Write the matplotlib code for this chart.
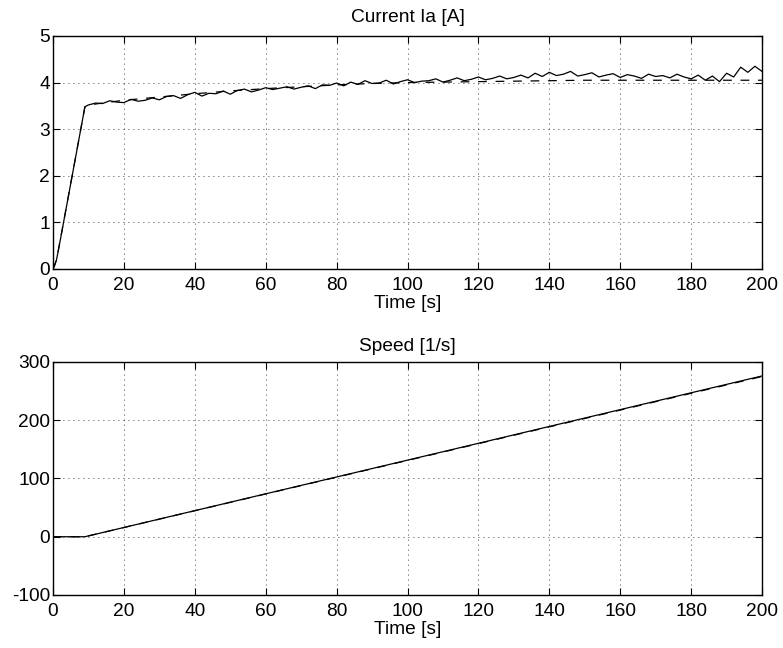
import numpy as np
import matplotlib
matplotlib.use('Agg')
import matplotlib.pyplot as plt

plt.rcParams['font.family'] = ['Liberation Sans', 'DejaVu Sans']
plt.rcParams['font.size'] = 13.8
plt.rcParams['axes.unicode_minus'] = False

# current Ia, measured (solid) - start-up then 2 s samples
t_cur = [0, 0.5, 1, 1.5, 2, 9] + list(range(10, 201, 2))
ia_meas = [0.0, 0.08, 0.2, 0.4, 0.6, 3.48,
           3.52, 3.56, 3.55, 3.61, 3.58, 3.57, 3.64, 3.60, 3.62, 3.67, 3.63,
           3.70, 3.72, 3.66, 3.74, 3.79, 3.71, 3.77, 3.76, 3.82, 3.75,
           3.83, 3.86, 3.80, 3.84, 3.89, 3.85, 3.88, 3.91, 3.86, 3.90,
           3.93, 3.87, 3.95, 3.94, 3.99, 3.93, 4.01, 3.96, 4.04, 3.98,
           3.99, 4.05, 3.97, 4.02, 4.06, 4.00, 4.03, 4.04, 4.08, 4.01,
           4.05, 4.10, 4.04, 4.07, 4.12, 4.06, 4.09, 4.14, 4.08, 4.11,
           4.16, 4.10, 4.20, 4.13, 4.22, 4.15, 4.18, 4.24, 4.14, 4.17,
           4.21, 4.12, 4.16, 4.19, 4.11, 4.17, 4.14, 4.09, 4.18, 4.13,
           4.15, 4.10, 4.18, 4.12, 4.08, 4.16, 4.05, 4.14, 4.02, 4.20,
           4.12, 4.33, 4.22, 4.35, 4.24]

# current Ia, model (dashed)
t_mod = [0, 1, 2, 9, 10, 20, 30, 40, 50, 60, 70, 80, 90, 100,
         110, 120, 130, 140, 150, 160, 170, 180, 190, 200]
ia_mod = [0.0, 0.2, 0.6, 3.48, 3.52, 3.62, 3.69, 3.76, 3.82, 3.87, 3.91, 3.95, 3.98, 4.0,
          4.01, 4.02, 4.03, 4.04, 4.05, 4.05, 4.05, 4.05, 4.05, 4.05]

# speed
t_spd = [0, 9, 200]
spd_meas = [0, 0, 276]
spd_mod = [0, 0, 275]

fig = plt.figure(figsize=(7.83, 6.48), dpi=100)
ax1 = fig.add_axes([0.0677, 0.5849, 0.9055, 0.3596])
ax2 = fig.add_axes([0.0677, 0.0818, 0.9055, 0.3596])

ax1.plot(t_cur, ia_meas, 'k-', lw=0.9)
ax1.plot(t_mod, ia_mod, color='k', ls=(0, (7, 7)), lw=0.9)
ax1.set_xlim(0, 200)
ax1.set_ylim(0, 5)
ax1.set_yticks([0, 1, 2, 3, 4, 5])
ax1.set_title('Current Ia [A]', fontsize=13.8, pad=10)

ax2.plot(t_spd, spd_meas, 'k-', lw=0.9)
ax2.plot(t_spd, spd_mod, color='k', ls=(0, (7, 7)), lw=0.9)
ax2.set_xlim(0, 200)
ax2.set_ylim(-100, 300)
ax2.set_yticks([-100, 0, 100, 200, 300])
ax2.set_title('Speed [1/s]', fontsize=13.8, pad=8)

for ax in (ax1, ax2):
    ax.set_xticks(range(0, 201, 20))
    ax.set_xlabel('Time [s]', labelpad=0.5)
    ax.grid(True, color='k', ls=(0, (1, 5)), lw=0.6)
    ax.tick_params(direction='in', top=True, right=True, length=5, width=0.8)
    ax.tick_params(axis='x', pad=6)
    ax.tick_params(axis='y', pad=2)
    for s in ax.spines.values():
        s.set_linewidth(1.0)

fig.savefig('out.png', dpi=100)
